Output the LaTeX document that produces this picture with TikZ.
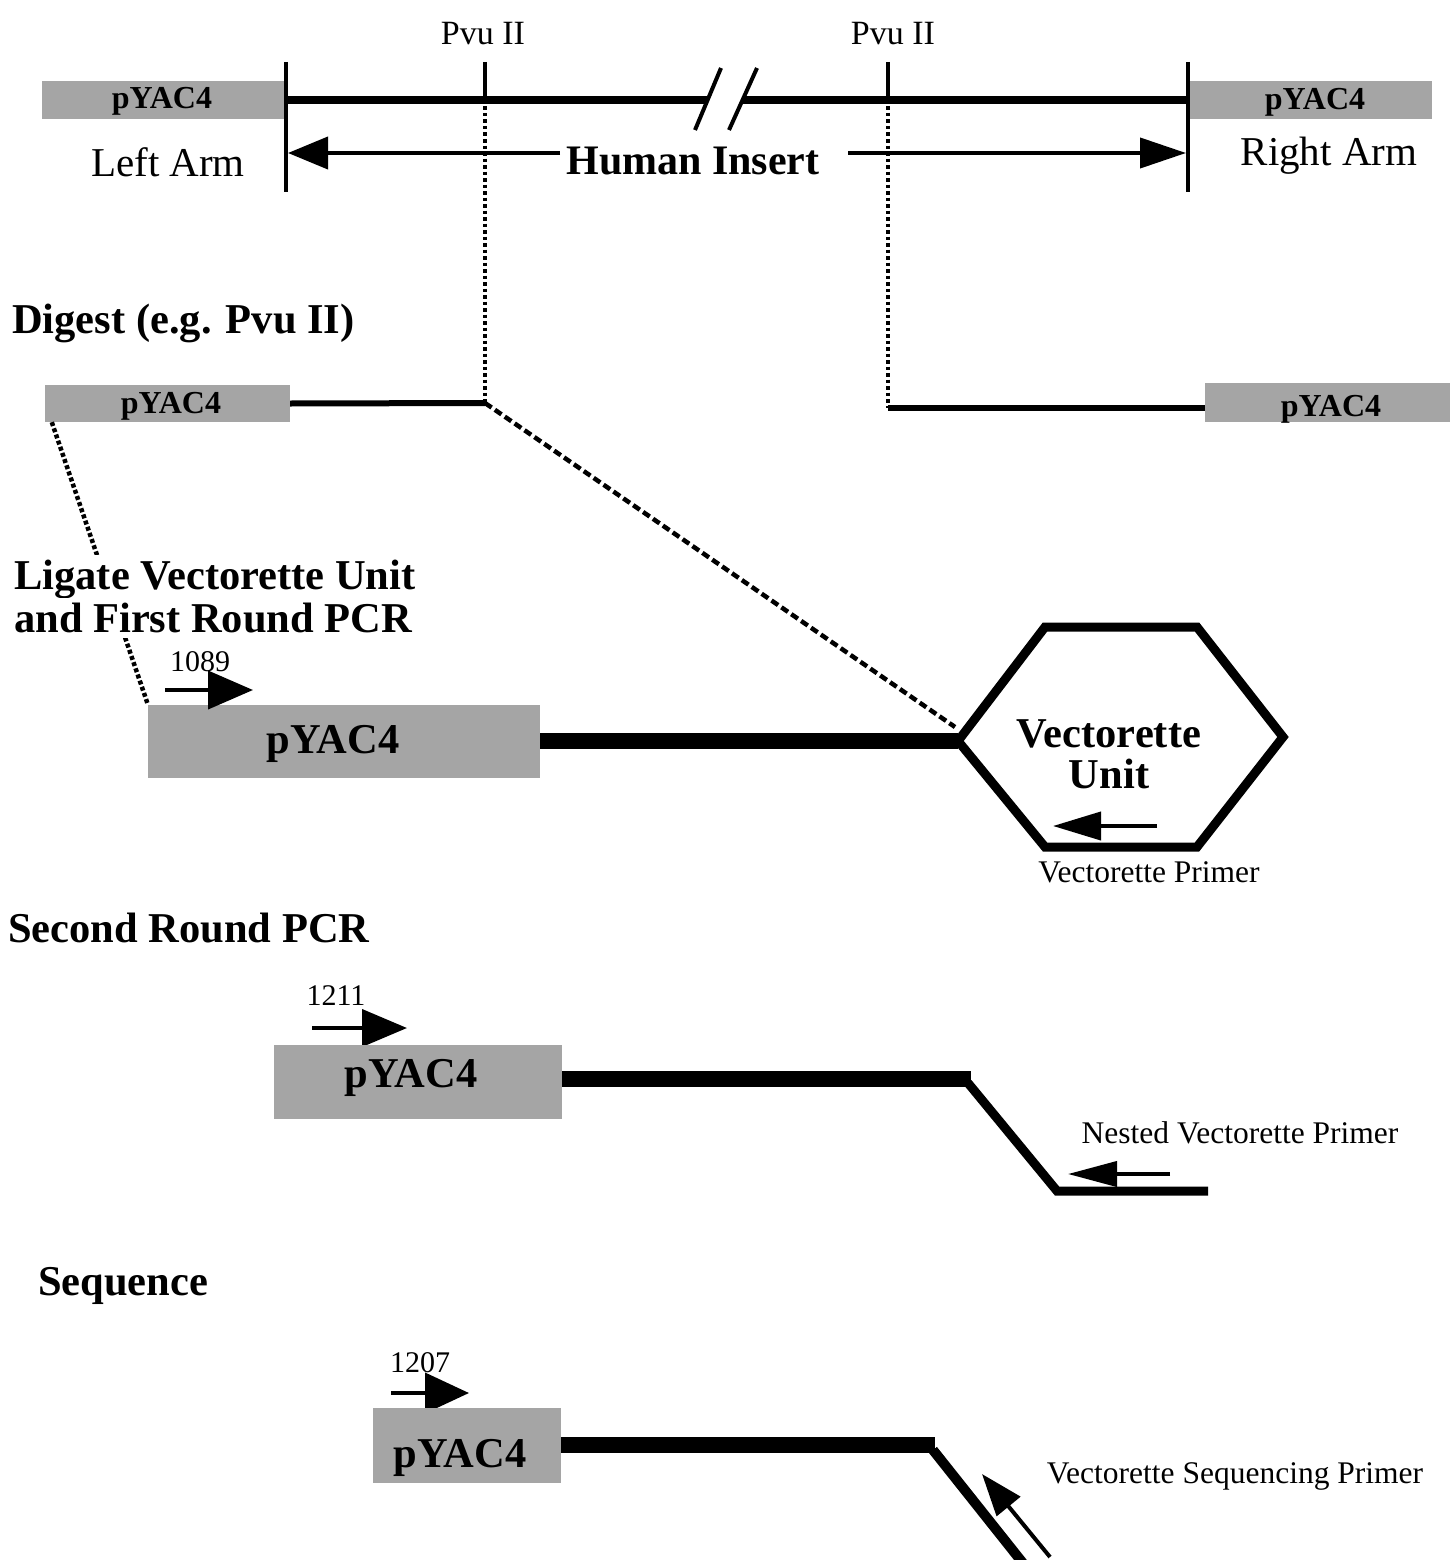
\documentclass[tikz,border=0pt]{standalone}
\usepackage{fontspec}
\setmainfont{Liberation Serif}
\usetikzlibrary{arrows.meta}
\definecolor{boxgray}{RGB}{165,165,165}
\tikzset{
  grayrect/.style={fill=boxgray, draw=none, inner sep=0pt},
  boxlbl/.style={anchor=base, inner sep=0pt, font=\fontsize{32}{32}\selectfont\bfseries},
  biglbl/.style={anchor=base, inner sep=0pt, font=\fontsize{42.5}{42.5}\selectfont\bfseries},
  hd/.style={anchor=base west, inner sep=0pt, font=\fontsize{42.5}{42.5}\selectfont\bfseries},
  armlbl/.style={anchor=base, inner sep=0pt, font=\fontsize{41}{41}\selectfont},
  pvulbl/.style={anchor=base, inner sep=0pt, font=\fontsize{34}{34}\selectfont},
  numlbl/.style={anchor=base, inner sep=0pt, font=\fontsize{30}{30}\selectfont},
  primlbl/.style={anchor=base, inner sep=0pt, font=\fontsize{31.5}{31.5}\selectfont},
  tickline/.style={line width=4pt},
  dnatop/.style={line width=7.5pt},
  dnamid/.style={line width=6pt},
  dnathick/.style={line width=16pt},
  vdots/.style={line width=4pt, dash pattern=on 3.5pt off 3pt},
  ddots/.style={line width=4.5pt, dash pattern=on 4pt off 2.5pt},
  ddash/.style={line width=4.5pt, dash pattern=on 8pt off 4pt},
  parrow/.style 2 args={line width=4pt, -{Triangle[length=#1,width=#2]}},
}
\begin{document}
\begin{tikzpicture}[x=1pt,y=-1pt]
\useasboundingbox (0,0) rectangle (1455,1560);

% ---------------- top row ----------------
\node[grayrect, minimum width=244pt, minimum height=38pt] (la) at (164,100) {};
\node[boxlbl] (lat) at (162,109) {pYAC4};
\node[grayrect, minimum width=244pt, minimum height=38pt] (ra) at (1310,100) {};
\node[boxlbl] (rat) at (1315,110) {pYAC4};

\coordinate (brkA) at (708,100);
\coordinate (brkB) at (742,100);
\draw[dnatop] (la.east) -- (brkA);
\draw[dnatop] (brkB) -- (ra.west);
\draw[tickline] (695,130) -- (721,68);
\draw[tickline] (729,130) -- (757,68);

\draw[tickline] (286,62) -- (286,192);
\draw[tickline] (1188,62) -- (1188,192);
\coordinate (p1) at (485,100);
\coordinate (p2) at (888,100);
\draw[tickline] (485,62) -- (p1);
\draw[tickline] (888,62) -- (p2);

\node[pvulbl] (pv1) at (483,45) {Pvu II};
\node[pvulbl] (pv2) at (893,45) {Pvu II};
\node[armlbl] (larm) at (168,176) {Left Arm};
\node[armlbl] (rarm) at (1329,165) {Right Arm};
\node[anchor=base, inner sep=0pt, font=\fontsize{42}{42}\selectfont\bfseries] (hi) at (693,174) {Human Insert};

\coordinate (aL) at (560,153);
\coordinate (tL) at (288,153);
\coordinate (aR) at (848,153);
\coordinate (tR) at (1186,153);
\draw[parrow={40pt}{32pt}] (aL) -- (tL);
\draw[parrow={46pt}{30pt}] (aR) -- (tR);

% ---------------- digest ----------------
\node[hd] (h1) at (12,333) {Digest (e.g. Pvu II)};

\node[grayrect, minimum width=245pt, minimum height=37pt] (da) at (167.5,403.5) {};
\node[boxlbl] (dat) at (171,413) {pYAC4};
\coordinate (cut1) at (485,403);
\draw[dnamid] (da.east) -- (cut1);
\draw[vdots] (p1) -- (cut1);

\node[grayrect, minimum width=245pt, minimum height=39pt] (db) at (1327.5,402.5) {};
\node[boxlbl] (dbt) at (1331,416) {pYAC4};
\coordinate (cut2) at (888,408);
\draw[dnamid] (cut2) -- (db.west |- cut2);
\draw[vdots] (p2) -- (cut2);

% ---------------- first round ----------------
\node[grayrect, minimum width=392pt, minimum height=73pt] (fb) at (344,741) {};
\node[biglbl] (fbt) at (333,753) {pYAC4};

\draw[ddots] ([xshift=7pt]da.south west) -- (fb.north west);

\node[hd, fill=white, inner ysep=5pt] (h2) at (14,589) {Ligate Vectorette Unit};
\node[hd, fill=white, inner ysep=5pt] (h3) at (14,632) {and First Round PCR};

\coordinate (hexL) at (958,741);
\coordinate (hexLd) at (955,727);
\draw[dnathick] (fb.east) -- (hexL);
\draw[line width=9pt, line join=miter] (hexL) -- (1045,627) -- (1197,627) -- (1283,737) -- (1197,847) -- (1045,847) -- cycle;
\draw[ddash] (cut1) -- (hexLd);

\node[biglbl] (vu1) at (1109,747) {Vectorette};
\node[biglbl] (vu2) at (1109,788) {Unit};

\coordinate (vp1) at (1157,826);
\coordinate (vp2) at (1053,826);
\draw[parrow={48pt}{28pt}] (vp1) -- (vp2);
\node[primlbl] (vpl) at (1149,882) {Vectorette Primer};

\node[numlbl] (n1) at (200,671) {1089};
\coordinate (f1a) at (165,690);
\coordinate (f1b) at (253,690);
\draw[parrow={45pt}{38pt}] (f1a) -- (f1b);

% ---------------- second round ----------------
\node[hd] (h4) at (8,942) {Second Round PCR};

\node[numlbl] (n2) at (336,1005) {1211};
\coordinate (f2a) at (312,1028);
\coordinate (f2b) at (407,1028);
\draw[parrow={45pt}{37pt}] (f2a) -- (f2b);

\node[grayrect, minimum width=288pt, minimum height=74pt] (sb) at (418,1082) {};
\node[biglbl] (sbt) at (411,1087) {pYAC4};
\coordinate (k1) at (971,1079);
\draw[dnathick] (sb.east |- k1) -- (k1);
\draw[line width=9pt, line join=miter] (968,1083) -- (1057,1191) -- (1208,1191);

\coordinate (np1) at (1170,1174);
\coordinate (np2) at (1068,1174);
\draw[parrow={49pt}{25pt}] (np1) -- (np2);
\node[primlbl] (npl) at (1240,1143) {Nested Vectorette Primer};

% ---------------- sequence ----------------
\node[hd] (h5) at (38,1295) {Sequence};

\node[numlbl] (n3) at (420,1372) {1207};
\coordinate (f3a) at (391,1393);
\coordinate (f3b) at (469,1393);
\draw[parrow={44pt}{40pt}] (f3a) -- (f3b);

\node[grayrect, minimum width=188pt, minimum height=75pt] (qb) at (467,1445.5) {};
\node[biglbl] (qbt) at (460,1467) {pYAC4};
\coordinate (k2) at (935,1445);
\draw[dnathick] (qb.east |- k2) -- (k2);
\draw[line width=10pt] (933,1450) -- (1030,1572);

\coordinate (sp1) at (1050,1557);
\coordinate (sp2) at (982,1474);
\draw[parrow={42pt}{30pt}] (sp1) -- (sp2);
\node[primlbl] (spl) at (1235,1483) {Vectorette Sequencing Primer};
\end{tikzpicture}
\end{document}
